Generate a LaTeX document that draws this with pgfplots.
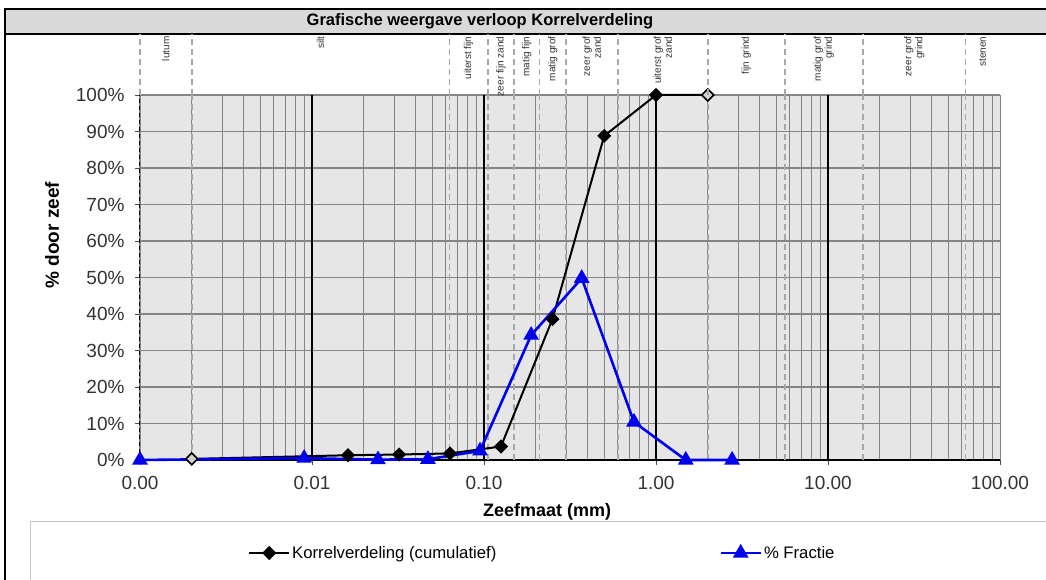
\documentclass[border=0pt]{standalone}
\usepackage{fontspec}
\setmainfont{Liberation Sans}
\usepackage{pgfplots}
\pgfplotsset{compat=1.18}
\definecolor{plotbg}{HTML}{E6E6E6}
\definecolor{gridgray}{HTML}{858585}
\definecolor{dashgray}{HTML}{A8A8A8}
\definecolor{titlebg}{HTML}{D9D9D9}
\definecolor{serieblue}{HTML}{0000F0}
\begin{document}
\begin{tikzpicture}
\path[use as bounding box] (0pt,0pt) rectangle (1046pt,580pt);
% frame and title bar
\fill[titlebg] (5pt,547pt) rectangle (1052pt,571pt);
\draw[black, line width=1.5pt] (5pt,-5pt) -- (5pt,571pt) -- (1052pt,571pt);
\draw[black, line width=2.5pt] (5pt,546pt) -- (1052pt,546pt);
\node[font=\bfseries\fontsize{16.5}{18}\selectfont] at (480pt,559pt) {Grafische weergave verloop Korrelverdeling};
% legend box
\draw[gray!45, line width=1pt] (30pt,-5pt) rectangle (1052pt,58pt);

% main plot
\begin{axis}[at={(140pt,120pt)}, anchor=south west, scale only axis,
  width=860pt, height=365pt,
  xmode=log, xmin=0.001, xmax=100, ymin=0, ymax=100,
  axis background/.style={fill=plotbg},
  xtick={0.001,0.01,0.1,1,10,100},
  xticklabels={0.00,0.01,0.10,1.00,10.00,100.00},
  ytick={0,10,20,30,40,50,60,70,80,90,100},
  yticklabels={0\%,10\%,20\%,30\%,40\%,50\%,60\%,70\%,80\%,90\%,100\%},
  xminorgrids, ymajorgrids,
  minor grid style={gridgray, line width=1.1pt},
  major grid style={gridgray, line width=1.3pt},
  axis x line*=bottom, axis y line*=left,
  x axis line style={black, line width=1.3pt, -},
  y axis line style={black, line width=1pt, dash pattern=on 4pt off 3pt, -},
  tick align=outside, major tick length=5pt, minor tick length=0pt,
  tick style={black!70, line width=0.8pt},
  ticklabel style={font=\fontsize{19}{21}\selectfont, text=black!80},
  xticklabel style={yshift=-8pt},
  yticklabel style={xshift=-7pt},
  xlabel={Zeefmaat (mm)},
  xlabel style={font=\bfseries\fontsize{18}{20}\selectfont, at={(axis description cs:0.4733,-0.1425)}, anchor=center},
  ylabel={\% door zeef},
  ylabel style={font=\bfseries\fontsize{19}{21}\selectfont, at={(axis description cs:-0.1023,0.616)}, anchor=center},
  clip=false,
  legend columns=2,
  legend style={draw=none, fill=none, at={(axis description cs:0.1256,-0.2548)}, anchor=west,
    font=\fontsize{16.7}{18}\selectfont, inner sep=0pt,
    /tikz/every even column/.append style={column sep=221pt}},
  legend cell align=left,
  legend image code/.code={\draw[mark repeat=2, mark phase=2, #1] plot coordinates {(0pt,0pt) (20pt,0pt) (40pt,0pt)};},
]
\pgfplotsinvokeforeach{0.002,0.063,0.105,0.15,0.21,0.3,0.6,2,5.6,16,63}{
  \addplot[dashgray, line width=1.8pt, dash pattern=on 6pt off 4pt, forget plot] coordinates {(#1,0) (#1,100)};}
\pgfplotsinvokeforeach{0.01,0.1,1,10}{
  \addplot[black, line width=1.8pt, forget plot] coordinates {(#1,0) (#1,100)};}
\addplot[gridgray, line width=1pt, forget plot] coordinates {(100,0) (100,100)};

\addplot[black, line width=2pt, mark=square*, mark size=4pt,
  mark options={rotate=45, solid, fill=black}]
  coordinates {(0.002,0.3) (0.0162,1.3) (0.0321,1.5) (0.0634,1.8) (0.1255,3.7)
               (0.25,38.6) (0.5,88.8) (1,100) (2,100)};
\addlegendentry{Korrelverdeling (cumulatief)}
\addplot[only marks, forget plot, mark=square*, mark size=4pt,
  mark options={rotate=45, fill=gray!35, draw=black, line width=1.2pt}]
  coordinates {(0.002,0.3) (2,100)};
\addplot[serieblue, line width=2.6pt, mark=triangle*, mark size=6.5pt, mark options={solid, fill=serieblue}]
  coordinates {(0.001,0) (0.009,0.5) (0.0242,0.1) (0.0472,0.2) (0.0948,2.5)
               (0.188,34.2) (0.37,49.8) (0.745,10.4) (1.49,0) (2.77,0)};
\addlegendentry{\% Fractie}
\end{axis}

% label panel
\begin{axis}[at={(140pt,485pt)}, anchor=south west, scale only axis,
  width=860pt, height=61pt, xmode=log, xmin=0.001, xmax=100,
  ymin=0, ymax=1, hide axis, clip=false]
\pgfplotsinvokeforeach{0.001,0.002,0.063,0.105,0.15,0.21,0.3,0.6,2,5.6,16,63}{
  \addplot[dashgray, line width=1.8pt, dash pattern=on 6pt off 4pt] coordinates {(#1,0) (#1,1)};}
\tikzset{lbl/.style={rotate=90, anchor=east, align=right, font=\fontsize{10}{11}\selectfont, text=black!80, inner sep=0pt}}
\node[lbl] at (axis cs:0.001414,0.96) {lutum};
\node[lbl] at (axis cs:0.01122,0.96) {silt};
\node[lbl] at (axis cs:0.0813,0.96) {uiterst fijn};
\node[lbl] at (axis cs:0.1255,0.96) {zeer fijn zand};
\node[lbl] at (axis cs:0.1775,0.96) {matig fijn};
\node[lbl] at (axis cs:0.251,0.96) {matig grof};
\node[lbl] at (axis cs:0.424,0.96) {zeer grof\\zand};
\node[lbl] at (axis cs:1.095,0.96) {uiterst grof\\zand};
\node[lbl] at (axis cs:3.347,0.96) {fijn grind};
\node[lbl] at (axis cs:9.466,0.96) {matig grof\\grind};
\node[lbl] at (axis cs:31.75,0.96) {zeer grof\\grind};
\node[lbl] at (axis cs:79.4,0.96) {stenen};
\end{axis}
\end{tikzpicture}
\end{document}
